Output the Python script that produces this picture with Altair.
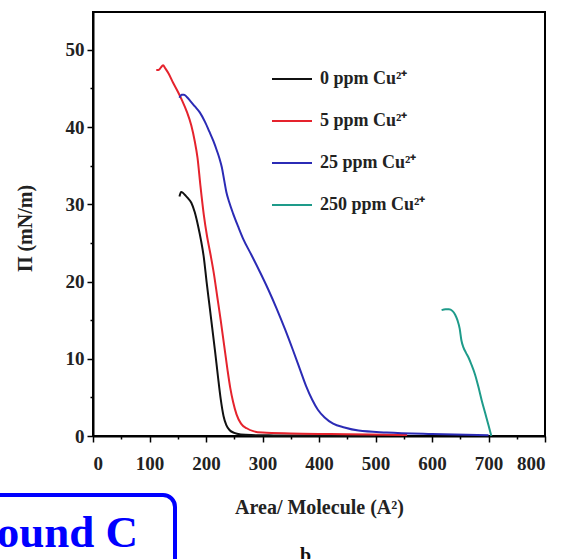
import altair as alt
import pandas as pd

FONT = "Liberation Serif"

series_names = ["0 ppm Cu²⁺", "5 ppm Cu²⁺", "25 ppm Cu²⁺", "250 ppm Cu²⁺"]
series_colors = ["#111111", "#e5232d", "#2b2bb5", "#1e9b8a"]

area_0 = [153, 156, 159, 163, 168, 174, 180, 186, 191, 196, 201, 206, 211, 216, 221, 226, 231, 236, 242, 250, 262, 280, 320, 400, 500]
pi_0 = [31.0, 31.6, 31.5, 31.2, 30.8, 30.2, 29.0, 27.2, 25.4, 23.2, 20.0, 17.0, 14.0, 11.0, 7.8, 4.8, 2.6, 1.4, 0.75, 0.4, 0.2, 0.12, 0.08, 0.05, 0.03]

area_5 = [112, 116, 120, 124, 128, 134, 142, 150, 158, 166, 174, 180, 185, 190, 196, 202, 208, 214, 220, 226, 232, 238, 243, 248, 254, 262, 272, 285, 300, 350, 420, 490, 556]
pi_5 = [47.4, 47.4, 47.7, 48.0, 47.6, 46.9, 45.7, 44.6, 43.4, 42.0, 40.2, 38.2, 36.0, 32.5, 28.7, 25.8, 23.5, 21.0, 18.0, 15.0, 11.8, 8.6, 6.2, 4.4, 2.8, 1.6, 1.0, 0.6, 0.45, 0.33, 0.25, 0.18, 0.12]

area_25 = [153, 157, 161, 166, 172, 180, 189, 198, 206, 213, 219, 224, 228, 232, 236, 241, 248, 257, 266, 280, 295, 310, 325, 340, 354, 366, 377, 388, 398, 410, 425, 445, 470, 520, 600, 700]
pi_25 = [43.8, 44.2, 44.2, 43.9, 43.4, 42.7, 41.9, 40.7, 39.4, 38.2, 37.0, 35.9, 34.8, 33.2, 31.6, 30.3, 28.8, 27.1, 25.5, 23.5, 21.3, 19.0, 16.5, 13.8, 11.1, 8.7, 6.5, 4.7, 3.4, 2.4, 1.6, 1.1, 0.7, 0.45, 0.25, 0.1]

area_250 = [617, 624, 630, 636, 641, 645, 649, 652, 656, 660, 665, 670, 676, 682, 688, 694, 700, 705]
pi_250 = [16.3, 16.4, 16.4, 16.2, 15.7, 15.0, 13.9, 12.4, 11.4, 10.8, 10.1, 9.2, 8.0, 6.4, 4.6, 3.0, 1.4, 0.0]

x_major = [0, 100, 200, 300, 400, 500, 600, 700, 800]
x_minor = [50, 150, 250, 350, 450, 550, 650, 750]
y_major = [0, 10, 20, 30, 40, 50]
y_minor = [5, 15, 25, 35, 45]

panel_label = ["ound C"]
sub_label = ["b"]

rows = []
for name, xs, ys in zip(series_names, [area_0, area_5, area_25, area_250], [pi_0, pi_5, pi_25, pi_250]):
    for i, (a, p) in enumerate(zip(xs, ys)):
        rows.append({"series": name, "area": a, "pi": p, "order": i})
df = pd.DataFrame(rows)

x_scale = alt.Scale(domain=[0, 800], nice=False, zero=False)
y_scale = alt.Scale(domain=[0, 54.9], nice=False, zero=False)

minor = alt.Chart(df).mark_line(opacity=0).encode(
    x=alt.X("area:Q", scale=x_scale,
            axis=alt.Axis(values=x_minor, labels=False, domain=False, tickSize=3,
                          title=None, orient="bottom", grid=False)),
    y=alt.Y("pi:Q", scale=y_scale,
            axis=alt.Axis(values=y_minor, labels=False, domain=False, tickSize=3,
                          title=None, orient="left", grid=False)),
    detail="series:N",
)

lines = alt.Chart(df).mark_line(strokeWidth=2, interpolate="monotone").encode(
    x=alt.X("area:Q", scale=x_scale,
            axis=alt.Axis(values=x_major, title="Area/ Molecule (A²)", orient="bottom",
                          tickSize=6, labelPadding=12, titleY=71, titleBaseline="middle",
                          grid=False)),
    y=alt.Y("pi:Q", scale=y_scale,
            axis=alt.Axis(values=y_major, title="Π (mN/m)", orient="left",
                          tickSize=6, labelPadding=3, titleX=-68, titleY=216,
                          titleAngle=270, titleAlign="center", titleBaseline="middle",
                          grid=False)),
    color=alt.Color("series:N",
                    scale=alt.Scale(domain=series_names, range=series_colors),
                    legend=alt.Legend(title=None, orient="none", legendX=178, legendY=46,
                                      symbolType="stroke", symbolSize=1600,
                                      symbolStrokeWidth=2, labelFont=FONT,
                                      labelFontWeight="bold", labelFontSize=18,
                                      labelColor="#222222", rowPadding=12,
                                      labelOffset=7, padding=0)),
    order="order:Q",
)

box = alt.Chart(pd.DataFrame({"k": [0]})).mark_rect(
    cornerRadius=12, fill="white", stroke="#0000ff", strokeWidth=4
).encode(
    x=alt.value(-120), x2=alt.value(82), y=alt.value(483), y2=alt.value(600)
)

box_text = alt.Chart(pd.DataFrame({"t": panel_label})).mark_text(
    font=FONT, fontWeight="bold", fontSize=45, color="#0000ff",
    align="right", baseline="alphabetic"
).encode(x=alt.value(45), y=alt.value(535), text="t:N")

b_text = alt.Chart(pd.DataFrame({"t": sub_label})).mark_text(
    font=FONT, fontWeight="bold", fontSize=20, color="#111111",
    align="left", baseline="top"
).encode(x=alt.value(207), y=alt.value(534), text="t:N")

chart = alt.layer(minor, lines, box, box_text, b_text).resolve_axis(
    x="independent", y="independent"
).properties(
    width=452, height=424,
    autosize=alt.AutoSizeParams(type="none"),
    padding={"left": 93, "top": 12, "right": 18, "bottom": 123},
    background="white",
).configure_view(
    stroke="black", strokeWidth=2
).configure_axis(
    labelFont=FONT, labelFontWeight="bold", labelFontSize=19, labelColor="#222222",
    titleFont=FONT, titleFontWeight="bold", titleFontSize=20, titleColor="#222222",
    domainColor="black", domainWidth=2, tickColor="black", tickWidth=1.5,
)

chart.save("out.html", embed_options={"renderer": "svg", "actions": False})
